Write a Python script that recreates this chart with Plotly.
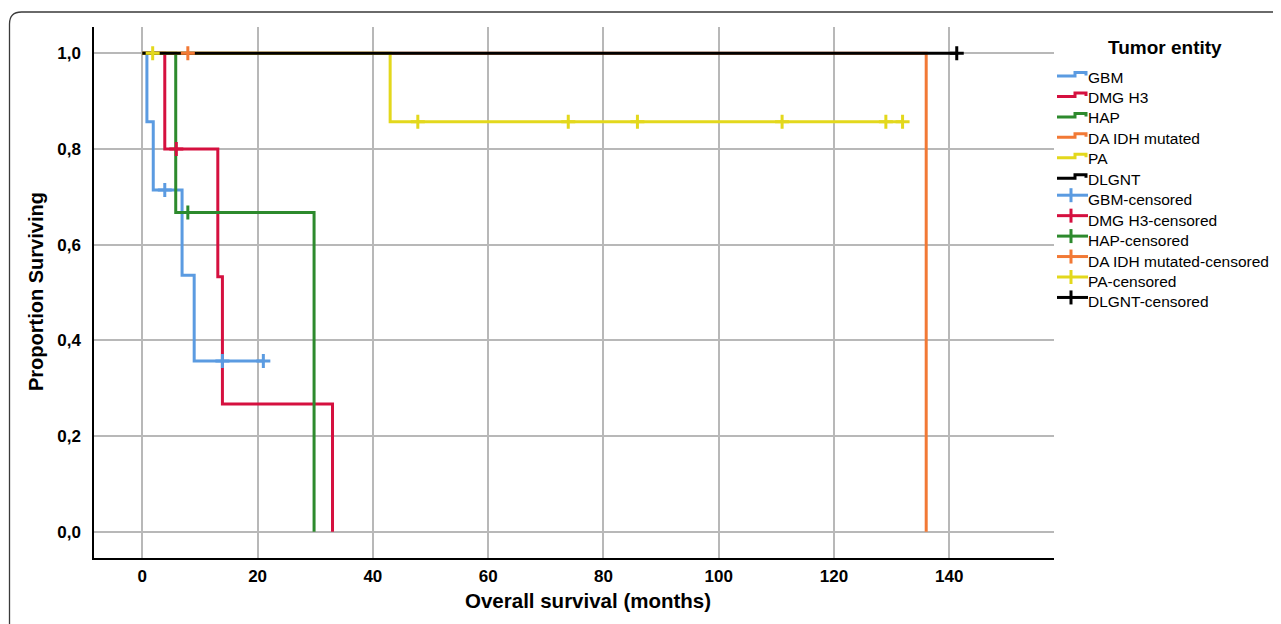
import plotly.graph_objects as go

# ---- Data ----
groups = ["GBM", "DMG H3", "HAP", "DA IDH mutated", "PA", "DLGNT"]

gbm_t = [0, 0.8, 1.9, 6.9, 9.0, 21.0]
gbm_s = [1.0, 0.857, 0.714, 0.536, 0.357, 0.357]
gbm_ct = [3.9, 13.9, 21.0]
gbm_cs = [0.714, 0.357, 0.357]

dmg_t = [0, 3.9, 13.1, 13.9, 33.0]
dmg_s = [1.0, 0.8, 0.533, 0.267, 0.0]
dmg_ct = [5.9]
dmg_cs = [0.8]

hap_t = [0, 5.8, 29.8]
hap_s = [1.0, 0.667, 0.0]
hap_ct = [7.9]
hap_cs = [0.667]

da_t = [0, 136.0]
da_s = [1.0, 0.0]
da_ct = [7.9]
da_cs = [1.0]

pa_t = [0, 43.0, 131.9]
pa_s = [1.0, 0.857, 0.857]
pa_ct = [1.8, 47.8, 73.9, 85.9, 111.0, 129.0, 131.9]
pa_cs = [1.0, 0.857, 0.857, 0.857, 0.857, 0.857, 0.857]

dlgnt_t = [0, 141.3]
dlgnt_s = [1.0, 1.0]
dlgnt_ct = [141.3]
dlgnt_cs = [1.0]

x_ticks = [0, 20, 40, 60, 80, 100, 120, 140]
y_ticks = [0.0, 0.2, 0.4, 0.6, 0.8, 1.0]

colors = ["#5B9BE1", "#D5103F", "#2D8A2D", "#F27935", "#E3D81C", "#000000"]

curves = [(gbm_t, gbm_s), (dmg_t, dmg_s), (hap_t, hap_s),
          (da_t, da_s), (pa_t, pa_s), (dlgnt_t, dlgnt_s)]
censors = [(gbm_ct, gbm_cs), (dmg_ct, dmg_cs), (hap_ct, hap_cs),
           (da_ct, da_cs), (pa_ct, pa_cs), (dlgnt_ct, dlgnt_cs)]

# ---- Layout geometry (page pixels; the page body adds an 8px offset) ----
OFF = 8
W, H = 1281 - OFF, 624 - OFF
L, R, T, B = 94, 1054, 27, 558  # plot area in page pixels

def fx(px):
    return (px - L) / (R - L)

def fy(py):
    return (B - py) / (B - T)

FONT = "Liberation Sans, Arial, sans-serif"

fig = go.Figure()

for name, (t, s), c in zip(groups, curves, colors):
    fig.add_trace(go.Scatter(x=t, y=s, mode="lines", name=name,
                             line=dict(color=c, width=3, shape="hv"),
                             showlegend=False, hoverinfo="skip"))

for name, (t, s), c in zip(groups, censors, colors):
    fig.add_trace(go.Scatter(x=t, y=s, mode="markers", name=name + "-censored",
                             marker=dict(symbol="cross-thin", size=10,
                                         line=dict(color=c, width=3)),
                             showlegend=False, hoverinfo="skip"))

shapes = []
annotations = []

# Outer rounded frame (top-left corner visible)
bx, by, rad = 9.5, 12, 12
path = (f"M {fx(bx)},{fy(1281 + 20)} L {fx(bx)},{fy(by + rad)} "
        f"Q {fx(bx)},{fy(by)} {fx(bx + rad)},{fy(by)} L {fx(1281 + 20)},{fy(by)}")
shapes.append(dict(type="path", xref="paper", yref="paper", path=path,
                   line=dict(color="#3a3a3a", width=1.3), layer="below"))

# Custom legend
annotations.append(dict(text="<b>Tumor entity</b>", xref="paper", yref="paper",
                        x=fx(1165), y=fy(48), xanchor="center", yanchor="middle",
                        showarrow=False, font=dict(family=FONT, size=19, color="black")))

legend_labels = groups + [g + "-censored" for g in groups]
legend_colors = colors + colors
y0, dy = 77, 20.45
for i, (lab, c) in enumerate(zip(legend_labels, legend_colors)):
    yc = y0 + i * dy
    annotations.append(dict(text=lab, xref="paper", yref="paper",
                            x=fx(1086), y=fy(yc), xanchor="left", yanchor="middle",
                            showarrow=False,
                            font=dict(family=FONT, size=15.5, color="black")))
    if i < 6:
        lo, hi = yc - 1, yc - 4.5
        p = (f"M {fx(1057)},{fy(lo)} L {fx(1075)},{fy(lo)} L {fx(1075)},{fy(hi)} "
             f"L {fx(1086)},{fy(hi)} L {fx(1086)},{fy(hi + 3)}")
        shapes.append(dict(type="path", xref="paper", yref="paper", path=p,
                           line=dict(color=c, width=3)))
    else:
        ym = yc - 4.5
        shapes.append(dict(type="line", xref="paper", yref="paper",
                           x0=fx(1057), x1=fx(1088), y0=fy(ym), y1=fy(ym),
                           line=dict(color=c, width=3)))
        shapes.append(dict(type="line", xref="paper", yref="paper",
                           x0=fx(1071), x1=fx(1071), y0=fy(ym - 7), y1=fy(ym + 7),
                           line=dict(color=c, width=3)))

# Axis titles
annotations.append(dict(text="<b>Overall survival (months)</b>", xref="paper", yref="paper",
                        x=fx(588), y=fy(600), xanchor="center", yanchor="middle",
                        showarrow=False, font=dict(family=FONT, size=20.5, color="black")))
annotations.append(dict(text="<b>Proportion Surviving</b>", xref="paper", yref="paper",
                        x=fx(36), y=fy(292), xanchor="center", yanchor="middle",
                        textangle=-90, showarrow=False,
                        font=dict(family=FONT, size=20, color="black")))

xpx = 5.764  # pixels per month
x0_px = 142.3
y0_px, y1_px = 531.7, 53.3
ypx = y0_px - y1_px

fig.update_layout(
    width=W, height=H,
    margin=dict(l=L - OFF, r=1281 - R, t=T - OFF, b=624 - B, pad=0),
    paper_bgcolor="white", plot_bgcolor="white",
    separators=",.",
    shapes=shapes, annotations=annotations,
    showlegend=False,
    font=dict(family=FONT, color="black"),
)
fig.update_xaxes(
    range=[(L - x0_px) / xpx, (R - x0_px) / xpx],
    tickvals=x_ticks, ticktext=[str(v) for v in x_ticks],
    showgrid=True, gridcolor="#B8B8B8", gridwidth=2,
    zeroline=False, showline=True, linecolor="black", linewidth=1.5,
    ticks="", tickfont=dict(family=FONT, size=17, color="black", weight="bold"),
    ticklabelstandoff=2,
)
fig.update_yaxes(
    range=[(y0_px - B) / ypx, (y0_px - T) / ypx],
    tickvals=y_ticks, tickformat=".1f",
    showgrid=True, gridcolor="#B8B8B8", gridwidth=2,
    zeroline=False, showline=True, linecolor="black", linewidth=1.5,
    ticks="", tickfont=dict(family=FONT, size=17, color="black", weight="bold"),
    ticklabelstandoff=8,
)

fig.write_html("out.html")
